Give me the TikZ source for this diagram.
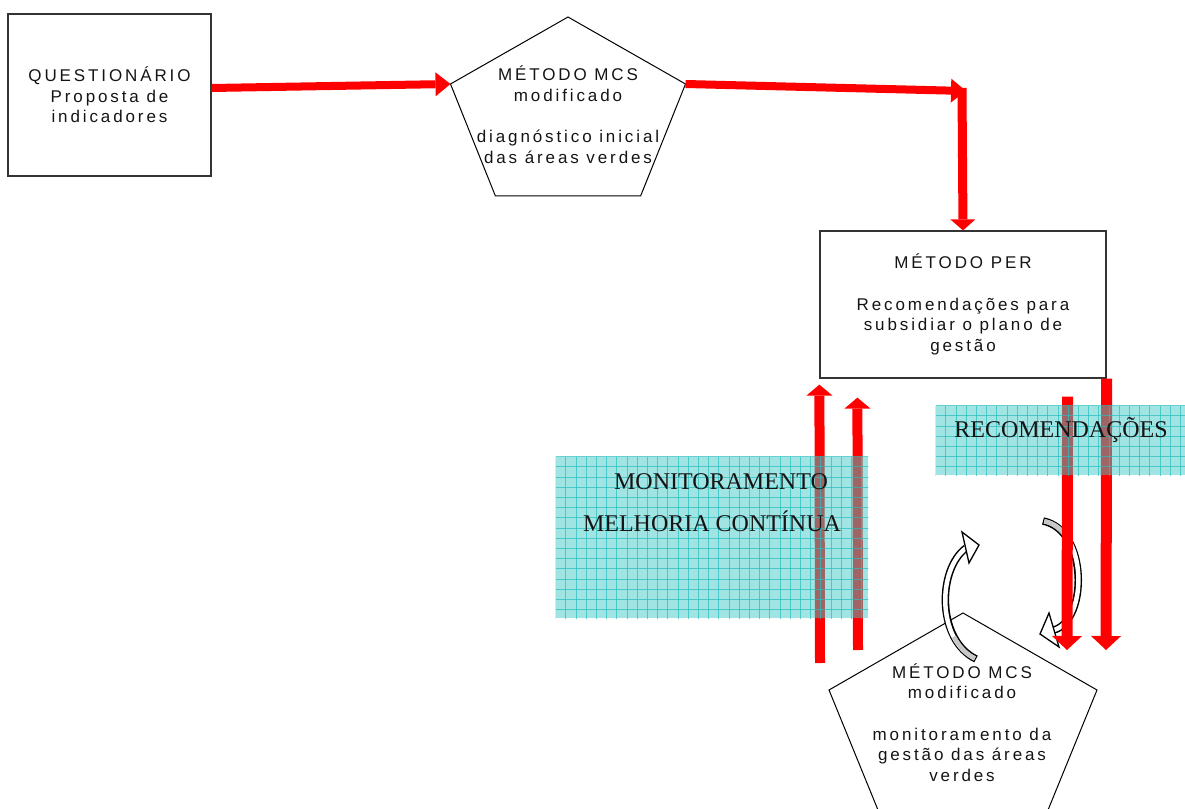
\documentclass[tikz,border=0pt]{standalone}
\usepackage{fontspec}
\setmainfont{Liberation Serif}
\newfontfamily\boxfont[LetterSpace=17]{Liberation Sans}
\usetikzlibrary{arrows.meta,calc}
\newdimen\pxu \pxu=0.75pt
\newcommand\boxtext{\boxfont\fontsize{12.75pt}{15.5pt}\selectfont}
\definecolor{arrowred}{RGB}{255,0,0}
\definecolor{tealfill}{RGB}{65,201,201}
\definecolor{tealgrid}{RGB}{40,190,190}
\definecolor{bandgray}{RGB}{200,200,200}
\definecolor{ink}{RGB}{20,20,20}
\tikzset{
  frame/.style={draw=black!80, line width=1.2\pxu, inner sep=0pt, align=center, font=\boxtext, text=ink},
  outline/.style={draw=black, line width=1\pxu, line join=miter},
  txt/.style={inner sep=0pt, align=center, font=\boxtext, text=ink},
  bigtxt/.style={inner sep=0pt, anchor=base, font=\fontsize{18pt}{22pt}\selectfont, text=ink},
  flowA/.style={draw=arrowred, line width=8\pxu, -{Triangle[length=11.25pt,width=18pt,line width=0pt]}},
  flowB/.style={draw=arrowred, line width=9\pxu, -{Triangle[length=8.25pt,width=18.75pt,line width=0pt]}},
  flowUp/.style={draw=arrowred, line width=10\pxu, -{Triangle[length=8.25pt,width=19.5pt,line width=0pt]}},
  flowDown/.style={draw=arrowred, line width=11\pxu, -{Triangle[length=10.5pt,width=22.5pt,line width=0pt]}},
  tealbox/.style={fill=tealfill, fill opacity=0.5, draw=none, inner sep=0pt},
  gridline/.style={draw=tealgrid, line width=1\pxu, opacity=0.7},
  bandout/.style={draw=black, line width=7.5\pxu},
  bandin/.style={draw=white, line width=4.5\pxu, shorten <=1.3\pxu},
  bandshade/.style={draw=bandgray, line width=4.5\pxu, shorten <=1.3\pxu},
  bandhead/.style={draw=black, fill=white, line width=1.3\pxu, line join=miter},
}
\begin{document}
\begin{tikzpicture}[x=0.75pt,y=-0.75pt]
\useasboundingbox (0,0) rectangle (1185,809);

% rectangular boxes
\node[frame, minimum width=203\pxu, minimum height=162\pxu] (q) at (109.5,95)
  {QUESTIONÁRIO\\Proposta de\\indicadores};
\node[frame, minimum width=286\pxu, minimum height=147\pxu] (per) at (963,304.5)
  {MÉTODO PER\\[15.5pt]Recomendações para\\subsidiar o plano de\\gestão};

% upper pentagon
\coordinate (p1t) at (568,17);
\coordinate (p1e) at (685.5,84);
\coordinate (p1se) at (640.6,196);
\coordinate (p1sw) at (495.4,196);
\coordinate (p1w) at (450.5,84);
\draw[outline] (p1t) -- (p1e) -- (p1se) -- (p1sw) -- (p1w) -- cycle;
\node[txt] (mcs1) at (568,114.6)
  {MÉTODO MCS\\modificado\\[15.5pt]diagnóstico inicial\\das áreas verdes};

% lower pentagon
\coordinate (p2t) at (963,613);
\coordinate (p2e) at (1097,690);
\coordinate (p2se) at (1045.8,815.4);
\coordinate (p2sw) at (880.2,815.4);
\coordinate (p2w) at (829,690);
\draw[outline] (p2t) -- (p2e) -- (p2se) -- (p2sw) -- (p2w) -- cycle;
\node[txt] (mcs2) at (962,722.6)
  {MÉTODO MCS\\modificado\\[15.5pt]monitoram\kern3pt ento da\\gestão das áreas\\verdes};

% curved cycle arrows
\coordinate (lt) at (976,659);
\coordinate (lh) at (966,548);
\draw[bandout] (lt) .. controls (937,640) and (937,570) .. (lh);
\draw[bandin] (lt) .. controls (937,640) and (937,570) .. (lh);
\draw[bandshade] (lt) .. controls (966.25,654.25) and (958.94,646.31) .. (953.9,636.7);
\draw[bandhead] (962,532) -- (979,545) -- (969,563) -- cycle;

\coordinate (rt) at (1043,521);
\coordinate (rh) at (1054,630);
\draw[bandout] (rt) .. controls (1088,530) and (1088,620) .. (rh);
\draw[bandin] (rt) .. controls (1088,530) and (1088,620) .. (rh);
\draw[bandshade] (rt) .. controls (1052,522.8) and (1059.2,527.8) .. (1064.7,534.8);
\draw[bandhead] (1049,613) -- (1040,634) -- (1059,647) -- cycle;

% flow arrows
\coordinate (bend) at (962,91);
\draw[flowA] ($(q.east)+(0,-7)$) -- (p1w);
\draw[flowA] (p1e) -- ($(bend)+(4,0)$);
\draw[flowB] ($(bend)+(0,-3)$) -- (per.north);

\coordinate (a0) at (820,663);
\coordinate (b0) at (858,650);
\draw[flowUp] (a0) -- ($(per.south west)+(0,6)$);
\draw[flowUp] (b0) -- ($(per.south west)+(38,19)$);

\coordinate (c1) at (1067,650);
\coordinate (d1) at (1106,650);
\draw[flowDown] ($(per.south east)+(-39,18)$) -- (c1);
\draw[flowDown] (per.south east) -- (d1);

% shaded label panels
\node[tealbox, minimum width=312\pxu, minimum height=161\pxu] (mon) at (712,537.5) {};
\node[tealbox, minimum width=250\pxu, minimum height=69\pxu] (rec) at (1061,440.5) {};
\begin{scope}
  \clip (mon.north west) rectangle (mon.south east);
  \foreach \i in {0,...,31} \draw[gridline] ($(mon.north west)+(\i*10.2,0)$) -- ++(0,170);
  \foreach \j in {0,...,16} \draw[gridline] ($(mon.north west)+(0,\j*10.2)$) -- ++(320,0);
\end{scope}
\begin{scope}
  \clip (rec.north west) rectangle (rec.south east);
  \foreach \i in {0,...,25} \draw[gridline] ($(rec.north west)+(\i*10.2,0)$) -- ++(0,80);
  \foreach \j in {0,...,7} \draw[gridline] ($(rec.north west)+(0,\j*10.2)$) -- ++(260,0);
\end{scope}

\node[bigtxt] (montxt) at (721,489) {MONITORAMENTO};
\node[bigtxt] (meltxt) at (712,531) {MELHORIA CONTÍNUA};
\node[bigtxt] (rectxt) at (1061,437.5) {RECOMENDAÇÕES};
\end{tikzpicture}
\end{document}
